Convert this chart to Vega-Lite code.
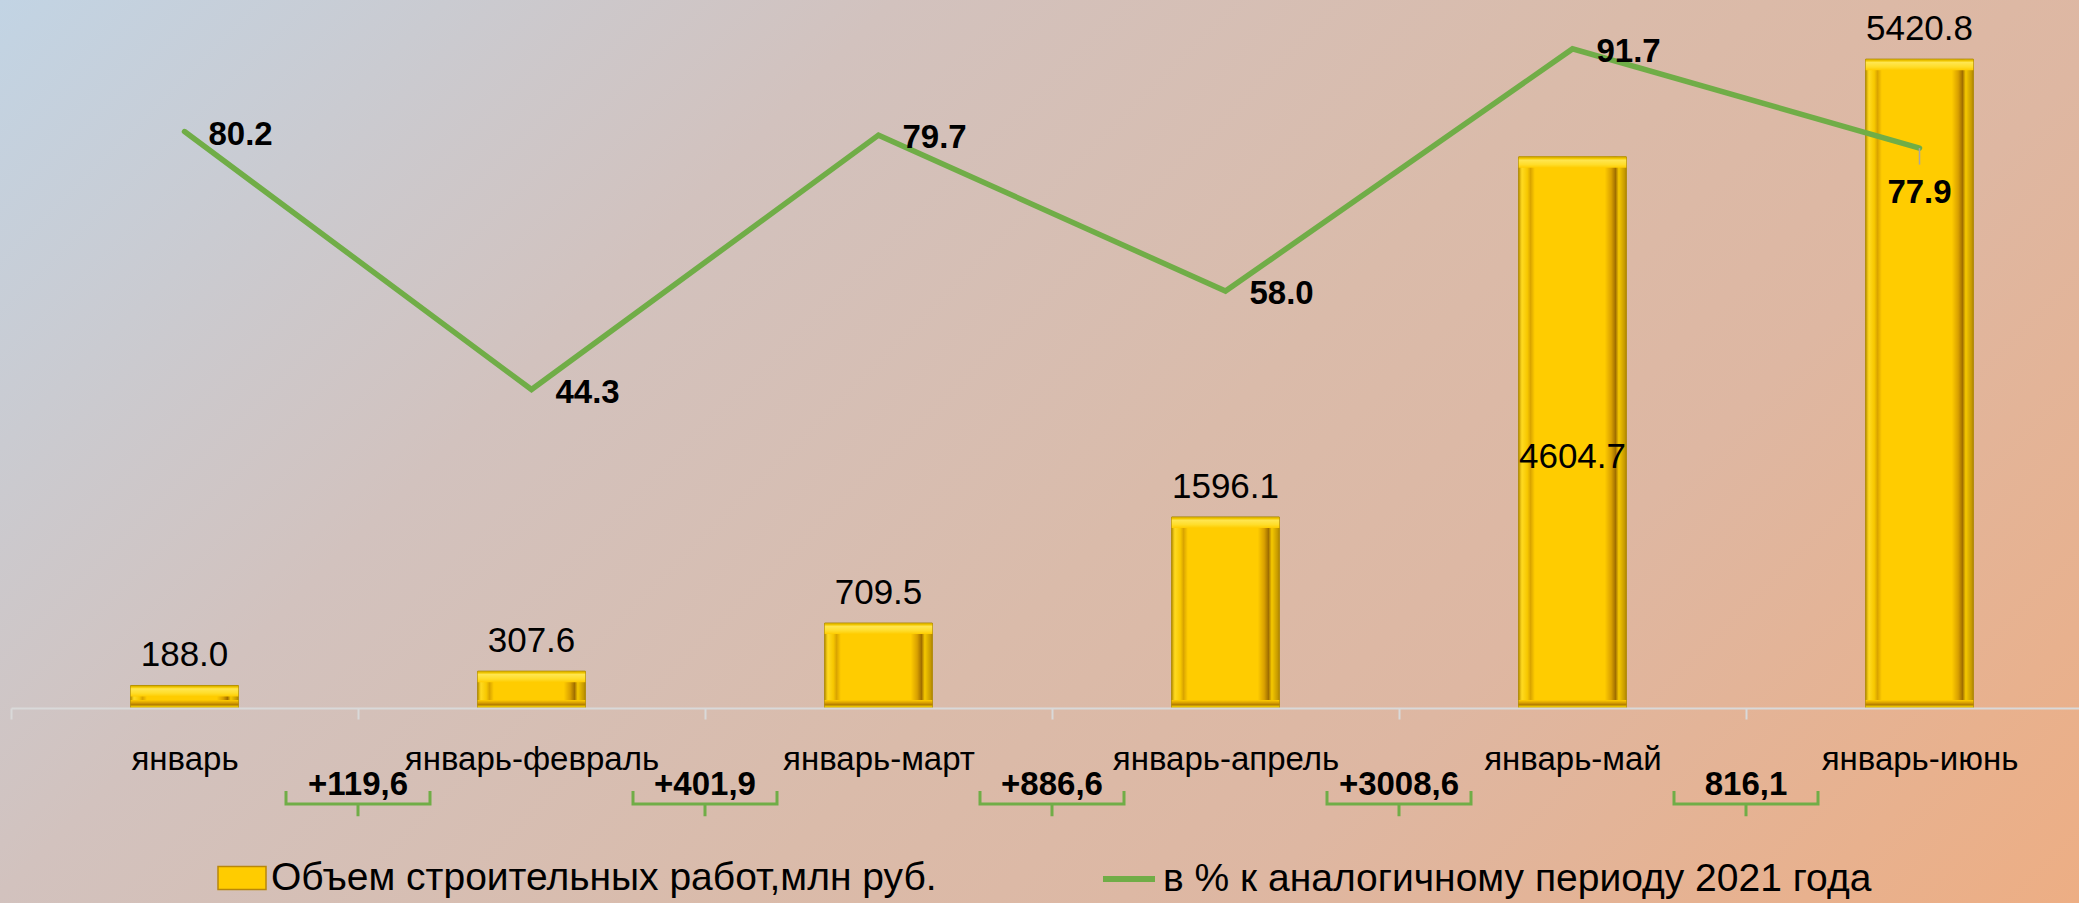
{
  "$schema": "https://vega.github.io/schema/vega-lite/v6.json",
  "width": 2079,
  "height": 903,
  "autosize": {"type": "none"},
  "padding": 0,
  "background": "#D8BCAD",
  "datasets": {
    "main": [
      {"period": "январь", "volume": 188.0, "pct": 80.2},
      {"period": "январь-февраль", "volume": 307.6, "pct": 44.3},
      {"period": "январь-март", "volume": 709.5, "pct": 79.7},
      {"period": "январь-апрель", "volume": 1596.1, "pct": 58.0},
      {"period": "январь-май", "volume": 4604.7, "pct": 91.7},
      {"period": "январь-июнь", "volume": 5420.8, "pct": 77.9}
    ],
    "gains": [
      {"period": "январь", "gain": "+119,6"},
      {"period": "январь-февраль", "gain": "+401,9"},
      {"period": "январь-март", "gain": "+886,6"},
      {"period": "январь-апрель", "gain": "+3008,6"},
      {"period": "январь-май", "gain": "816,1"}
    ]
  },
  "layer": [
    {
      "data": {"values": [{}]},
      "mark": {
        "type": "rect",
        "fill": {
          "gradient": "linear", "x1": 0, "y1": 0, "x2": 1.207, "y2": 0.524,
          "stops": [
            {"offset": 0, "color": "#C2D4E4"},
            {"offset": 0.3, "color": "#D2C2BE"},
            {"offset": 0.55, "color": "#DABBAA"},
            {"offset": 0.72, "color": "#DEB7A2"},
            {"offset": 1, "color": "#EDAE84"}
          ]
        }
      },
      "encoding": {}
    },
    {
      "data": {"name": "main"},
      "layer": [
        {
          "mark": {"type": "bar", "width": {"band": 0.31}},
          "encoding": {
            "x": {"field": "period", "type": "nominal", "sort": null, "title": null,
              "scale": {"domain": ["январь", "январь-февраль", "январь-март", "январь-апрель", "январь-май", "январь-июнь"], "range": [11, 2093], "paddingInner": 0, "paddingOuter": 0},
              "axis": {"title": null, "zindex": 1, "offset": -195, "domainColor": "#D9D9D9", "domainWidth": 2, "tickColor": "#D9D9D9", "tickWidth": 2, "tickSize": 11, "tickBand": "extent", "labelFont": "Liberation Sans", "labelFontSize": 33, "labelColor": "#000000", "labelAngle": 0, "labelBaseline": "alphabetic", "labelPadding": 50, "labelLimit": 500, "labelOverlap": false}},
            "y": {"field": "volume", "type": "quantitative", "scale": {"domain": [0, 5915], "range": [708, 0], "nice": false, "zero": false}, "axis": null},
            "fill": {
              "datum": "Объем строительных работ,млн руб.",
              "scale": {"range": ["#FFCC00"]},
              "legend": {
                "orient": "none", "legendX": 217, "legendY": 853, "direction": "horizontal", "title": null,
                "symbolType": "M -1 -0.48 H 1 V 0.48 H -1 Z", "symbolSize": 2304, "symbolStrokeColor": "#B8860B", "symbolStrokeWidth": 1.5,
                "labelFont": "Liberation Sans", "labelFontSize": 39, "labelColor": "#000000",
                "labelOffset": 4, "labelLimit": 1000, "padding": 0
              }
            }
          }
        },
        {
          "mark": {
            "type": "bar", "width": {"band": 0.31}, "stroke": "#A88400", "strokeWidth": 1,
            "fill": {
              "gradient": "linear", "x1": 0, "y1": 0, "x2": 1, "y2": 0,
              "stops": [
                {"offset": 0, "color": "#C49A00"},
                {"offset": 0.03, "color": "#FFDA20"},
                {"offset": 0.08, "color": "#F7C800"},
                {"offset": 0.11, "color": "#D9A400"},
                {"offset": 0.15, "color": "#FFCC00"},
                {"offset": 0.8, "color": "#FFCC00"},
                {"offset": 0.86, "color": "#D9A000"},
                {"offset": 0.9, "color": "#A06E00"},
                {"offset": 0.93, "color": "#F5C800"},
                {"offset": 1, "color": "#B88C00"}
              ]
            }
          },
          "encoding": {
            "x": {"field": "period", "type": "nominal", "sort": null, "title": null},
            "y": {"field": "volume", "type": "quantitative", "scale": {"domain": [0, 5915], "range": [708, 0], "nice": false, "zero": false}, "axis": null}
          }
        },
        {
          "mark": {
            "type": "bar", "width": {"band": 0.31}, "y2Offset": 11,
            "fill": {
              "gradient": "linear", "x1": 0, "y1": 0, "x2": 0, "y2": 1,
              "stops": [
                {"offset": 0, "color": "#C9A200"},
                {"offset": 0.15, "color": "#F2C800"},
                {"offset": 0.3, "color": "#FFE650"},
                {"offset": 0.7, "color": "#FFDD2A"},
                {"offset": 1, "color": "#FFCC00"}
              ]
            }
          },
          "encoding": {
            "x": {"field": "period", "type": "nominal", "sort": null, "title": null},
            "y": {"field": "volume", "type": "quantitative", "scale": {"domain": [0, 5915], "range": [708, 0], "nice": false, "zero": false}, "axis": null},
            "y2": {"field": "volume"}
          }
        },
        {
          "mark": {
            "type": "bar", "width": {"band": 0.31}, "yOffset": -8,
            "fill": {
              "gradient": "linear", "x1": 0, "y1": 0, "x2": 0, "y2": 1,
              "stops": [
                {"offset": 0, "color": "#FFCC00"},
                {"offset": 0.35, "color": "#D9A000"},
                {"offset": 0.6, "color": "#B07A00"},
                {"offset": 0.8, "color": "#EBC400"},
                {"offset": 1, "color": "#C9A000"}
              ]
            }
          },
          "encoding": {
            "x": {"field": "period", "type": "nominal", "sort": null, "title": null},
            "y": {"datum": 0, "type": "quantitative", "scale": {"domain": [0, 5915], "range": [708, 0], "nice": false, "zero": false}, "axis": null},
            "y2": {"datum": 0}
          }
        },
        {
          "transform": [{"filter": "datum.period !== 'январь-май'"}],
          "mark": {"type": "text", "baseline": "alphabetic", "dy": -19, "font": "Liberation Sans", "fontSize": 35, "color": "#000000"},
          "encoding": {
            "x": {"field": "period", "type": "nominal", "sort": null, "title": null},
            "y": {"field": "volume", "type": "quantitative", "scale": {"domain": [0, 5915], "range": [708, 0], "nice": false, "zero": false}, "axis": null},
            "text": {"field": "volume", "type": "quantitative", "format": ".1f"}
          }
        },
        {
          "transform": [{"filter": "datum.period === 'январь-май'"}],
          "mark": {"type": "text", "baseline": "alphabetic", "font": "Liberation Sans", "fontSize": 35, "color": "#000000"},
          "encoding": {
            "x": {"field": "period", "type": "nominal", "sort": null, "title": null},
            "y": {"datum": 2005, "type": "quantitative", "scale": {"domain": [0, 5915], "range": [708, 0], "nice": false, "zero": false}, "axis": null},
            "text": {"field": "volume", "type": "quantitative", "format": ".1f"}
          }
        },
        {
          "data": {"name": "gains"},
          "mark": {"type": "point", "shape": "M -1 -0.18 L -1 0 L 1 0 L 1 -0.18 M 0 0 L 0 0.17", "size": 20736, "filled": false, "stroke": "#70AD47", "strokeWidth": 3, "opacity": 1},
          "encoding": {
            "x": {"field": "period", "type": "nominal", "sort": null, "title": null, "bandPosition": 1},
            "y": {"datum": -802, "type": "quantitative", "scale": {"domain": [0, 5915], "range": [708, 0], "nice": false, "zero": false}, "axis": null}
          }
        },
        {
          "data": {"name": "gains"},
          "mark": {"type": "text", "baseline": "middle", "dy": -19, "font": "Liberation Sans", "fontSize": 33, "fontWeight": "bold", "color": "#000000"},
          "encoding": {
            "x": {"field": "period", "type": "nominal", "sort": null, "title": null, "bandPosition": 1},
            "y": {"datum": -802, "type": "quantitative", "scale": {"domain": [0, 5915], "range": [708, 0], "nice": false, "zero": false}, "axis": null},
            "text": {"field": "gain"}
          }
        }
      ]
    },
    {
      "data": {"name": "main"},
      "layer": [
        {
          "mark": {"type": "line", "strokeWidth": 5.5, "strokeCap": "round"},
          "encoding": {
            "x": {"field": "period", "type": "nominal", "sort": null, "title": null},
            "y": {"field": "pct", "type": "quantitative", "scale": {"domain": [0, 98.5], "range": [708, 0], "nice": false, "zero": false}, "axis": null},
            "stroke": {
              "datum": "в % к аналогичному периоду 2021 года",
              "scale": {"range": ["#70AD47"]},
              "legend": {
                "orient": "none", "legendX": 1100, "legendY": 850, "direction": "horizontal", "title": null,
                "symbolType": "stroke", "symbolSize": 2704, "symbolStrokeWidth": 6,
                "labelFont": "Liberation Sans", "labelFontSize": 39, "labelColor": "#000000",
                "labelOffset": 5, "labelLimit": 1000, "padding": 0
              }
            }
          }
        },
        {
          "transform": [{"filter": "datum.period === 'январь-июнь'"}],
          "mark": {"type": "rule", "color": "#A6A6A6", "strokeWidth": 1.5},
          "encoding": {
            "x": {"field": "period", "type": "nominal", "sort": null, "title": null},
            "y": {"field": "pct", "type": "quantitative", "scale": {"domain": [0, 98.5], "range": [708, 0], "nice": false, "zero": false}, "axis": null},
            "y2": {"datum": 75.6}
          }
        },
        {
          "transform": [{"filter": "datum.period !== 'январь-июнь'"}],
          "mark": {"type": "text", "align": "left", "baseline": "middle", "dx": 24, "dy": 3, "font": "Liberation Sans", "fontSize": 33, "fontWeight": "bold", "color": "#000000"},
          "encoding": {
            "x": {"field": "period", "type": "nominal", "sort": null, "title": null},
            "y": {"field": "pct", "type": "quantitative", "scale": {"domain": [0, 98.5], "range": [708, 0], "nice": false, "zero": false}, "axis": null},
            "text": {"field": "pct", "type": "quantitative", "format": ".1f"}
          }
        },
        {
          "transform": [{"filter": "datum.period === 'январь-июнь'"}],
          "mark": {"type": "text", "align": "center", "baseline": "middle", "dy": 45, "font": "Liberation Sans", "fontSize": 33, "fontWeight": "bold", "color": "#000000"},
          "encoding": {
            "x": {"field": "period", "type": "nominal", "sort": null, "title": null},
            "y": {"field": "pct", "type": "quantitative", "scale": {"domain": [0, 98.5], "range": [708, 0], "nice": false, "zero": false}, "axis": null},
            "text": {"field": "pct", "type": "quantitative", "format": ".1f"}
          }
        }
      ]
    }
  ],
  "resolve": {"scale": {"y": "independent"}, "axis": {"y": "independent"}}
}
